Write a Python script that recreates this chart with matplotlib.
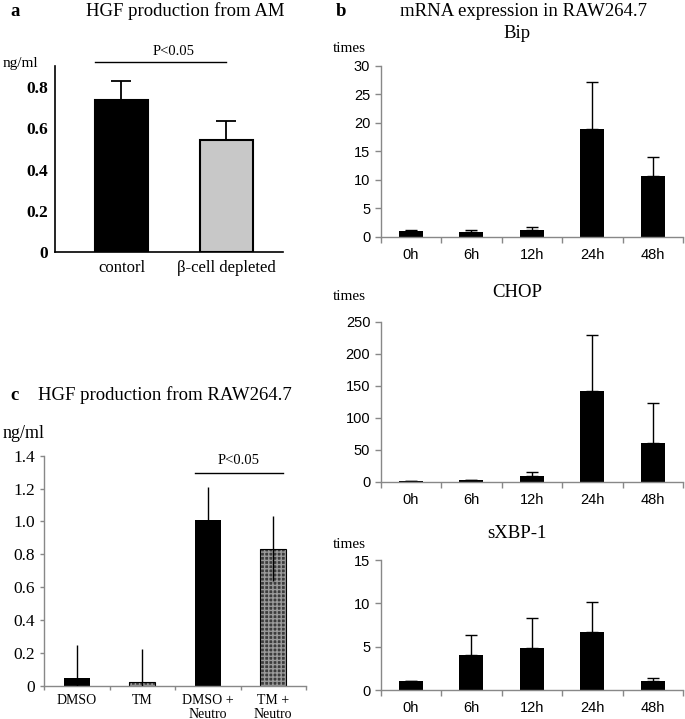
import matplotlib
matplotlib.use("Agg")
import matplotlib.pyplot as plt
import numpy as np

W, H = 685, 719
SERIF = "Liberation Serif"
SANS = "Liberation Sans"

# panel a
a_groups = ["contorl", "β-cell depleted"]
a_vals = [0.737, 0.543]
a_err = [0.093, 0.091]
a_ticks = [0, 0.2, 0.4, 0.6, 0.8]
a_ticklabels = ["0", "0.2", "0.4", "0.6", "0.8"]

# panel b
hours = ["0h", "6h", "12h", "24h", "48h"]
bip_vals = [1.0, 0.8, 1.2, 18.9, 10.6]
bip_err = [0.1, 0.3, 0.5, 8.3, 3.3]
chop_vals = [1.5, 2.0, 8.9, 142, 60]
chop_err = [0.3, 1.0, 6.7, 87, 63]
xbp_vals = [1.0, 4.0, 4.9, 6.7, 1.0]
xbp_err = [0.05, 2.3, 3.4, 3.5, 0.4]

# panel c
c_groups = ["DMSO", "TM", "DMSO +\nNeutro", "TM +\nNeutro"]
c_vals = [0.045, 0.024, 1.01, 0.835]
c_err = [0.205, 0.198, 0.20, 0.198]
c_ticks = [0, 0.2, 0.4, 0.6, 0.8, 1.0, 1.2, 1.4]
c_ticklabels = ["0", "0.2", "0.4", "0.6", "0.8", "1.0", "1.2", "1.4"]

fig = plt.figure(figsize=(W / 100, H / 100), dpi=100)


def box(l, r, t, b):
    return [l / W, 1 - b / H, (r - l) / W, (b - t) / H]


def ftxt(x, y, s, **kw):
    fig.text(x / W, 1 - y / H, s, **kw)


# ---- a ----
ax = fig.add_axes(box(55, 283, 66.4, 252))
xa = np.arange(len(a_groups))
ax.bar(xa, a_vals, width=0.5, color=["black", "#c8c8c8"], edgecolor="black", linewidth=1.5, zorder=2)
ax.errorbar(xa, a_vals, yerr=[np.zeros(2), a_err], fmt="none", ecolor="black", elinewidth=1.3, capsize=7, capthick=1.3, zorder=1)
ax.set_xlim(-0.633, 1.538)
ax.set_ylim(0, 0.9)
ax.set_yticks(a_ticks)
ax.set_yticklabels(a_ticklabels, fontfamily=SERIF, fontweight="bold", fontsize=12.5)
ax.set_xticks(xa)
ax.set_xticklabels(a_groups, fontfamily=SERIF, fontsize=12)
ax.tick_params(length=0, pad=6)
ax.tick_params(axis="y", pad=5)
for s in ["top", "right"]:
    ax.spines[s].set_visible(False)
for s in ["left", "bottom"]:
    ax.spines[s].set_linewidth(1.2)
ax.plot([-0.25, 1.0], [0.92, 0.92], color="black", lw=1, clip_on=False, transform=ax.transData)
ax.text(0.5, 0.94, "P<0.05", ha="center", va="bottom", fontfamily=SERIF, fontsize=10.5)
ftxt(10, 11, "a", fontfamily=SERIF, fontweight="bold", fontsize=13.5, va="center")
ftxt(185, 11, "HGF production from AM", fontfamily=SERIF, fontsize=13.5, ha="center", va="center")
ftxt(3, 63, "ng/ml", fontfamily=SERIF, fontsize=11, va="center")


# ---- b ----
def hour_panel(rect, vals, err, top, step, title, title_y, times_y):
    ax = fig.add_axes(rect)
    x = np.arange(len(hours))
    ax.bar(x, vals, width=0.4, color="black", zorder=2)
    ax.errorbar(x, vals, yerr=[np.zeros(len(x)), err], fmt="none", ecolor="black", elinewidth=1, capsize=4, capthick=1, zorder=1)
    ax.set_xlim(-0.5, 4.5)
    ax.set_ylim(0, top)
    ax.set_yticks(np.arange(0, top + step / 2, step))
    ax.set_yticklabels([str(int(v)) for v in np.arange(0, top + step / 2, step)], fontfamily=SANS, fontsize=10.5)
    ax.set_xticks(np.arange(-0.5, 5, 1))
    ax.set_xticklabels([""] * 6)
    ax.set_xticks(x, hours, minor=True)
    for lab in ax.get_xticklabels(minor=True):
        lab.set_fontfamily(SANS)
        lab.set_fontsize(10.5)
    ax.tick_params(which="minor", length=0, pad=8)
    ax.tick_params(which="major", length=4, color="#888888", width=1)
    for s in ["top", "right"]:
        ax.spines[s].set_visible(False)
    for s in ["left", "bottom"]:
        ax.spines[s].set_color("#888888")
        ax.spines[s].set_linewidth(1)
    ftxt(517, title_y, title, fontfamily=SERIF, fontsize=13.5, ha="center", va="center")
    ftxt(333, times_y, "times", fontfamily=SERIF, fontsize=11, va="center")
    return ax


hour_panel(box(380.7, 683, 65.7, 236.7), bip_vals, bip_err, 30, 5, "Bip", 33, 48)
hour_panel(box(380.7, 683, 321.7, 481.7), chop_vals, chop_err, 250, 50, "CHOP", 292, 297)
hour_panel(box(380.7, 683, 560, 690), xbp_vals, xbp_err, 15, 5, "sXBP-1", 533, 545)
ftxt(336, 11, "b", fontfamily=SERIF, fontweight="bold", fontsize=13.5, va="center")
ftxt(523, 11, "mRNA expression in RAW264.7", fontfamily=SERIF, fontsize=13.5, ha="center", va="center")

# ---- c ----
ax = fig.add_axes(box(44, 306, 455.7, 685.7))
xc = np.arange(len(c_groups))
for i in range(len(xc)):
    if i % 2 == 0:
        ax.bar(xc[i], c_vals[i], width=0.4, color="black", zorder=2)
    else:
        ax.bar(xc[i], c_vals[i], width=0.4, color="#3c3c3c", edgecolor="#9a9a9a", hatch="++++", linewidth=0, zorder=2)
        ax.bar(xc[i], c_vals[i], width=0.4, fill=False, edgecolor="black", linewidth=0.8, zorder=2)
ax.errorbar(xc, c_vals, yerr=c_err, fmt="none", ecolor="black", elinewidth=1, capsize=0, zorder=3)
ax.set_xlim(-0.5, 3.5)
ax.set_ylim(0, 1.4)
ax.set_yticks(c_ticks)
ax.set_yticklabels(c_ticklabels, fontfamily=SERIF, fontsize=12.5)
ax.set_xticks(np.arange(-0.5, 4, 1))
ax.set_xticklabels([""] * 5)
ax.set_xticks(xc, c_groups, minor=True)
for lab in ax.get_xticklabels(minor=True):
    lab.set_fontfamily(SERIF)
    lab.set_fontsize(10)
    lab.set_linespacing(1.05)
ax.tick_params(which="minor", length=0, pad=6)
ax.tick_params(which="major", length=3, color="#888888", width=1)
for s in ["top", "right"]:
    ax.spines[s].set_visible(False)
for s in ["left", "bottom"]:
    ax.spines[s].set_color("#888888")
    ax.spines[s].set_linewidth(1)
ax.plot([1.8, 3.15], [1.297, 1.297], color="black", lw=1, clip_on=False)
ax.text(2.47, 1.33, "P<0.05", ha="center", va="bottom", fontfamily=SERIF, fontsize=10.5)
ftxt(10, 395, "c", fontfamily=SERIF, fontweight="bold", fontsize=13.5, va="center")
ftxt(165, 395, "HGF production from RAW264.7", fontfamily=SERIF, fontsize=13.5, ha="center", va="center")
ftxt(3, 433, "ng/ml", fontfamily=SERIF, fontsize=13, va="center")

fig.savefig("out.png", dpi=100)
